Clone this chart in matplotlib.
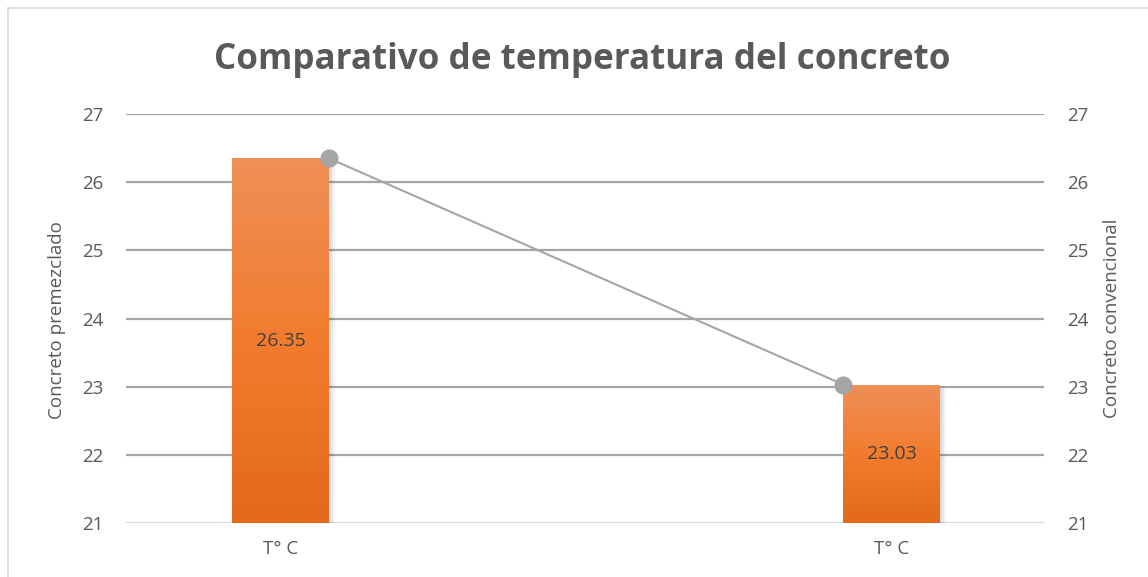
import matplotlib
matplotlib.use("Agg")
import matplotlib.pyplot as plt
import numpy as np
from matplotlib.patches import Rectangle
from matplotlib.colors import LinearSegmentedColormap
from matplotlib.lines import Line2D

# ---- data ----
categories = ["T° C", "T° C"]
bar_values = [26.35, 23.03]          # Concreto premezclado / convencional
line_values = [26.35, 23.03]
y_ticks = [21, 22, 23, 24, 25, 26, 27]
title = "Comparativo de temperatura del concreto"
left_label = "Concreto premezclado"
right_label = "Concreto convencional"

plt.rcParams['font.family'] = ['Open Sans', 'DejaVu Sans']
TXT = "#595959"
W, H = 1148, 577

fig = plt.figure(figsize=(W/100, H/100), dpi=100)
ax = fig.add_axes([126/W, 1-523/H, (1044-126)/W, (523-114)/H])
ax2 = ax.twinx()

x = np.arange(len(categories))
bw = 0.1586
ymin, ymax = y_ticks[0], y_ticks[-1]
XL = (-0.2527, 1.2486)

# gridlines
for t in y_ticks:
    c = "#d9d9d9" if t == ymin else "#a6a6a6"
    ax.axhline(t, color=c, lw=1.6, zorder=0.5)

cmap = LinearSegmentedColormap.from_list("g", ["#e3691a", "#f27c2e", "#ef8f57"])
grad = np.linspace(0, 1, 256).reshape(-1, 1)
for xi, v in zip(x, bar_values):
    # soft shadow
    for k, a in enumerate([0.06, 0.05, 0.04]):
        off = 0.003 * (k + 1)
        ax.add_patch(Rectangle((xi - bw/2 + off, ymin - 0.02*(k+1)), bw, v - ymin,
                               facecolor="black", alpha=a, edgecolor="none", zorder=1))
    rect = Rectangle((xi - bw/2, ymin), bw, v - ymin, facecolor="none",
                     edgecolor="none", zorder=2)
    ax.add_patch(rect)
    im = ax.imshow(grad, cmap=cmap, origin="lower", aspect="auto",
                   extent=(xi - bw/2, xi + bw/2, ymin, v), zorder=2)
    im.set_clip_path(rect)
    ax.text(xi, (v + ymin) / 2, f"{v:.2f}", ha="center", va="center",
            fontsize=14, color="#404040", zorder=3)

ax.set_xlim(*XL)
ax.set_ylim(ymin, ymax)

# line series at inner bar edges
lx = [x[0] + bw/2, x[1] - bw/2]
ax2.plot(lx, line_values, color="#a5a5a5", lw=1.5, marker="o", ms=12,
         markerfacecolor="#a5a5a5", markeredgecolor="#a5a5a5", zorder=4)
ax2.set_xlim(*XL)
ax2.set_ylim(ymin, ymax)

for a in (ax, ax2):
    for s in a.spines.values():
        s.set_visible(False)
    a.set_yticks(y_ticks)
    a.tick_params(axis="y", length=0, labelsize=13.5, labelcolor=TXT, pad=16.5)
ax.set_xticks(x)
ax.set_xticklabels(categories)
ax.tick_params(axis="x", length=0, labelsize=13.5, labelcolor=TXT, pad=12.5)

fig.text(57/W, 1-320/H, left_label, rotation=90, ha="center", va="center",
         fontsize=13.5, color=TXT)
fig.text(1112/W, 1-318/H, right_label, rotation=90, ha="center", va="center",
         fontsize=13.5, color=TXT)

# title, fitted to the reference width
t = fig.text(582.5/W, 1-69.3/H, title, ha="center", va="baseline",
             fontsize=25, fontweight="bold", color=TXT)
r = fig.canvas.get_renderer()
wpx = t.get_window_extent(r).width
t.set_fontsize(25 * 735 / wpx)

# chart border
fig.add_artist(Line2D([8/W, 8/W], [0, 1-8/H], color="#d9d9d9", lw=1.2))
fig.add_artist(Line2D([8/W, 1], [1-8/H, 1-8/H], color="#d9d9d9", lw=1.2))

fig.savefig("out.png", dpi=100)
